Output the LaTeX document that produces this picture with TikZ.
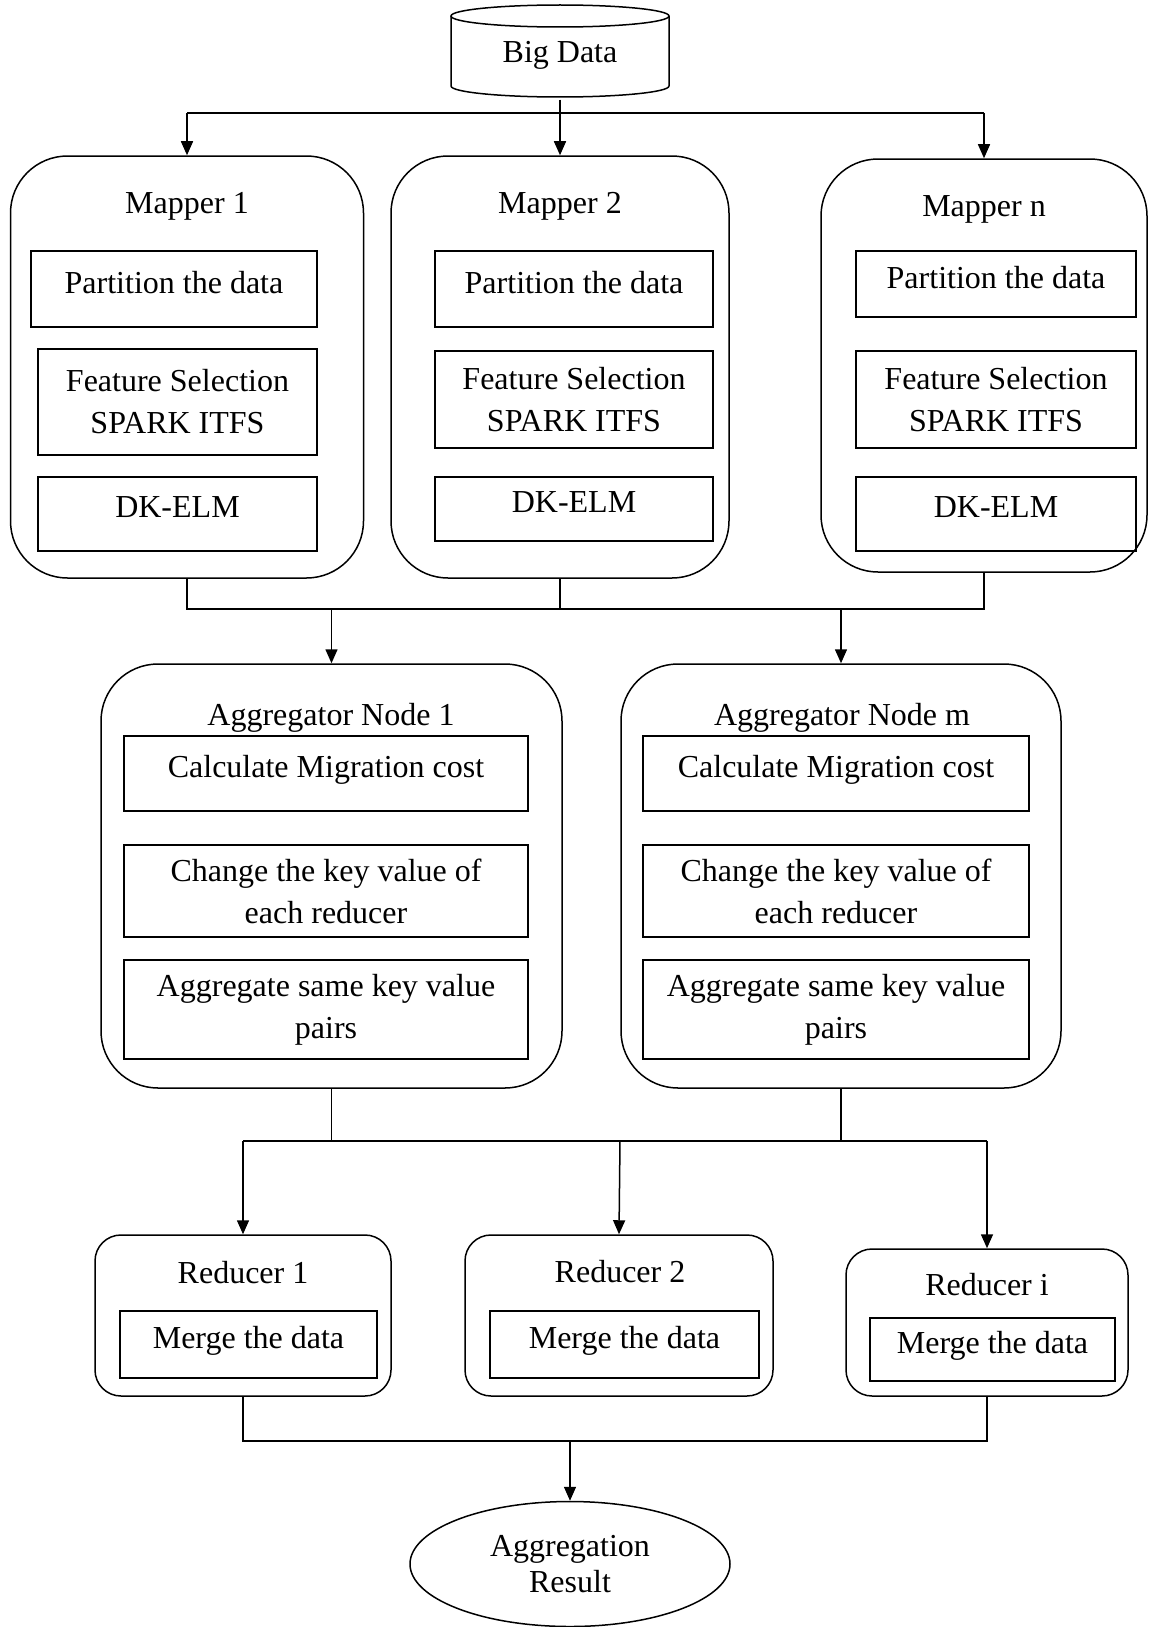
\documentclass[tikz,border=0pt]{standalone}
\usepackage{fontspec}
\setmainfont{Liberation Serif}
\usetikzlibrary{arrows.meta,shapes.geometric}
\begin{document}
\begin{tikzpicture}[x=1pt,y=-1pt,line width=1.5pt,
    font=\fontsize{32}{42}\selectfont,
    mapper/.style={draw,rounded corners=57pt},
    reducer/.style={draw,rounded corners=26pt},
    job/.style={draw,align=center},
    oneline/.style={job,text depth=14pt},
    title/.style={align=center},
    flow/.style={-{Triangle[length=14pt,width=12pt]}}]
  \useasboundingbox (0,0) rectangle (1148,1627);
  % big data store
  \draw (451,16) -- (451,86) arc[start angle=180,end angle=360,x radius=109pt,y radius=11pt] -- (669,16);
  \draw (560,16) ellipse [x radius=109pt,y radius=11pt];
  \node[minimum height=88pt,inner sep=0pt] (bd) at (560,55) {Big Data};
  % mappers
  \node[mapper,minimum width=353pt,minimum height=422pt] (m1) at (187,367) {};
  \node[mapper,minimum width=338pt,minimum height=422pt] (m2) at (560,367) {};
  \node[mapper,minimum width=326pt,minimum height=413pt] (mn) at (984,365.5) {};
  \node[title] (m1t) at (187,206) {Mapper 1};
  \node[title] (m2t) at (560,206) {Mapper 2};
  \node[title] (mnt) at (984,209) {Mapper n};
  \node[oneline,minimum width=286pt,minimum height=76pt] (m1p) at (174,289) {Partition the data};
  \node[job,minimum width=279pt,minimum height=106pt] (m1f) at (177.5,402) {Feature Selection\\SPARK ITFS};
  \node[oneline,minimum width=279pt,minimum height=74pt] (m1d) at (177.5,514) {DK-ELM};
  \node[oneline,minimum width=278pt,minimum height=76pt] (m2p) at (574,289) {Partition the data};
  \node[job,minimum width=278pt,minimum height=97pt] (m2f) at (574,399.5) {Feature Selection\\SPARK ITFS};
  \node[oneline,minimum width=278pt,minimum height=64pt] (m2d) at (574,509) {DK-ELM};
  \node[oneline,minimum width=280pt,minimum height=66pt] (mnp) at (996,284) {Partition the data};
  \node[job,minimum width=280pt,minimum height=97pt] (mnf) at (996,399.5) {Feature Selection\\SPARK ITFS};
  \node[oneline,minimum width=280pt,minimum height=74pt] (mnd) at (996,514) {DK-ELM};
  % aggregators
  \node[mapper,minimum width=461pt,minimum height=424pt] (a1) at (331.5,876) {};
  \node[mapper,minimum width=440pt,minimum height=424pt] (am) at (841,876) {};
  \node[title] (a1t) at (331,718) {Aggregator Node 1};
  \node[title] (amt) at (842,718) {Aggregator Node m};
  \node[oneline,minimum width=404pt,minimum height=75pt] (a1c) at (326,773.5) {Calculate Migration cost};
  \node[job,minimum width=404pt,minimum height=92pt] (a1k) at (326,891) {Change the key value of\\each reducer};
  \node[job,minimum width=404pt,minimum height=99pt] (a1s) at (326,1009.5) {Aggregate same key value\\pairs};
  \node[oneline,minimum width=386pt,minimum height=75pt] (amc) at (836,773.5) {Calculate Migration cost};
  \node[job,minimum width=386pt,minimum height=92pt] (amk) at (836,891) {Change the key value of\\each reducer};
  \node[job,minimum width=386pt,minimum height=99pt] (ams) at (836,1009.5) {Aggregate same key value\\pairs};
  % reducers
  \node[reducer,minimum width=296pt,minimum height=161pt] (r1) at (243,1315.5) {};
  \node[reducer,minimum width=308pt,minimum height=161pt] (r2) at (619,1315.5) {};
  \node[reducer,minimum width=282pt,minimum height=147pt] (ri) at (987,1322.5) {};
  \node[title] (r1t) at (243,1273) {Reducer 1};
  \node[title] (r2t) at (620,1272) {Reducer 2};
  \node[title] (rit) at (987,1285) {Reducer i};
  \node[oneline,minimum width=257pt,minimum height=67pt] (r1m) at (248.5,1344.5) {Merge the data};
  \node[oneline,minimum width=269pt,minimum height=67pt] (r2m) at (624.5,1344.5) {Merge the data};
  \node[oneline,minimum width=245pt,minimum height=63pt] (rim) at (992.5,1349.5) {Merge the data};
  % result
  \node[draw,ellipse,minimum width=320pt,minimum height=125pt,align=center,
    font=\fontsize{32}{36}\selectfont] (res) at (570,1564) {Aggregation\\Result};
  % connectors
  \coordinate (fork) at (560,113);
  \draw (fork -| m1.north) -- (fork -| mn.north);
  \draw[flow] (bd.south) -- (m2.north);
  \draw[flow] (fork -| m1.north) -- (m1.north);
  \draw[flow] (fork -| mn.north) -- (mn.north);
  \coordinate (join) at (560,609);
  \draw (m1.south) -- (m1.south |- join) -- (mn.south |- join) -- (mn.south);
  \draw (m2.south) -- (join);
  \draw[flow] (join -| a1.north) -- (a1.north);
  \draw[flow] (join -| am.north) -- (am.north);
  \coordinate (spread) at (620,1141);
  \draw (r1.north |- spread) -- (ri.north |- spread);
  \draw (a1.south) -- (a1.south |- spread);
  \draw (am.south) -- (am.south |- spread);
  \draw[flow] (r1.north |- spread) -- (r1.north);
  \draw[flow] (spread) -- (r2.north);
  \draw[flow] (ri.north |- spread) -- (ri.north);
  \coordinate (merge) at (570,1441);
  \draw (r1.south) -- (r1.south |- merge) -- (ri.south |- merge) -- (ri.south);
  \draw[flow] (merge) -- (res.north);
\end{tikzpicture}
\end{document}
